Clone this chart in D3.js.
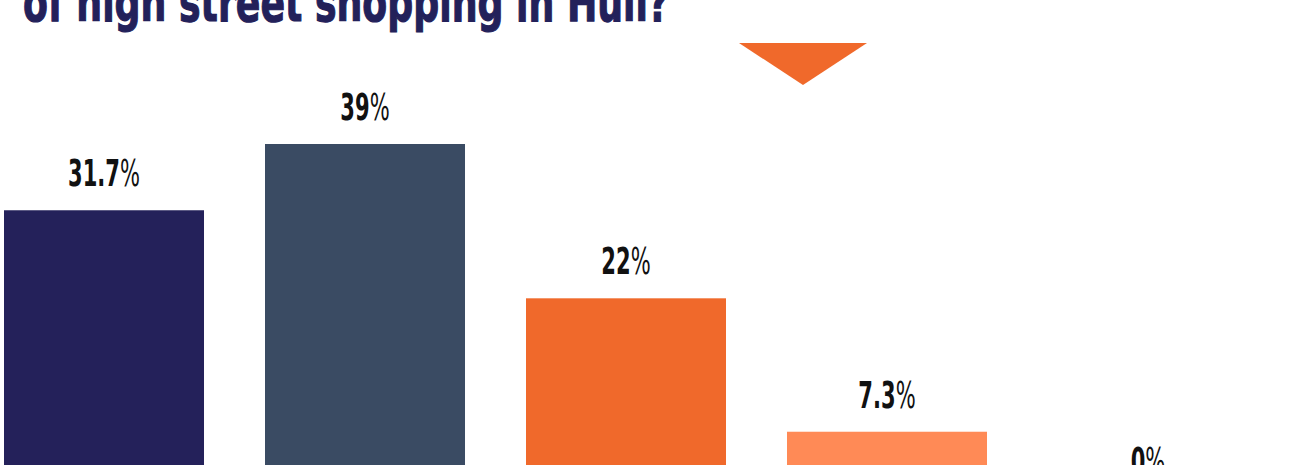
<!DOCTYPE html>
<html>
<head>
<meta charset="utf-8">
<script src="https://cdn.jsdelivr.net/npm/d3@7"></script>
<style>
  html, body { margin: 0; padding: 0; background: #ffffff; overflow: hidden; }
  svg { display: block; }
  .title { font-family: "DejaVu Sans", "Roboto", sans-serif; font-weight: 700; fill: #23215a; stroke: #23215a; stroke-width: 1.2px; }
  .value { font-family: "DejaVu Sans", "Roboto", sans-serif; font-weight: 700; fill: #111111; }
  .pct { font-weight: 400; }
</style>
</head>
<body>
<svg id="chart" width="1306" height="465"></svg>
<script>
// Survey answers and their share of respondents (%)
const categories = ["A", "B", "C", "D", "E"];
const values = [31.7, 39, 22, 7.3, 0];
const valueLabels = ["31.7", "39", "22", "7.3", "0"];
const colors = ["#24215a", "#3a4b63", "#f0692b", "#ff8a56", "#cfcfcf"];
const titleText = "of high street shopping in Hull?";

const W = 1306, H = 465;
const svg = d3.select("#chart");

// Bars sit on a baseline just below the visible frame
const baseline = 498;
const y = d3.scaleLinear().domain([0, 39]).range([baseline, 144]);
const x = d3.scaleBand()
  .domain(categories)
  .range([4, 1248])
  .paddingInner(0.2337)
  .paddingOuter(0);

// Title (top line continues above the frame), squeezed to a condensed width
svg.append("text")
  .attr("class", "title")
  .attr("x", 23)
  .attr("y", 21)
  .attr("font-size", 54)
  .attr("textLength", 646)
  .attr("lengthAdjust", "spacingAndGlyphs")
  .text(titleText);

// Pointer triangle
svg.append("path")
  .attr("d", d3.line()([[739, 43], [867, 43], [803, 85]]) + "Z")
  .attr("fill", "#f0692b");

// Bars
svg.selectAll("rect.bar")
  .data(values)
  .join("rect")
  .attr("class", "bar")
  .attr("x", (d, i) => x(categories[i]))
  .attr("width", x.bandwidth())
  .attr("y", d => y(d))
  .attr("height", d => baseline - y(d))
  .attr("fill", (d, i) => colors[i]);

// Value labels, horizontally condensed
const g = svg.selectAll("g.value")
  .data(values)
  .join("g")
  .attr("class", "value");
const lbl = g.append("text")
  .attr("class", "value")
  .attr("text-anchor", "middle")
  .attr("font-size", 37);
lbl.append("tspan").text((d, i) => valueLabels[i]);
lbl.append("tspan").attr("class", "pct").text("%");

const refWidth = lbl.nodes()[0].getComputedTextLength();
const sx = 72 / refWidth;
g.attr("transform", (d, i) =>
  `translate(${x(categories[i]) + x.bandwidth() / 2},${y(d) - 24}) scale(${sx},1)`);
</script>
</body>
</html>
